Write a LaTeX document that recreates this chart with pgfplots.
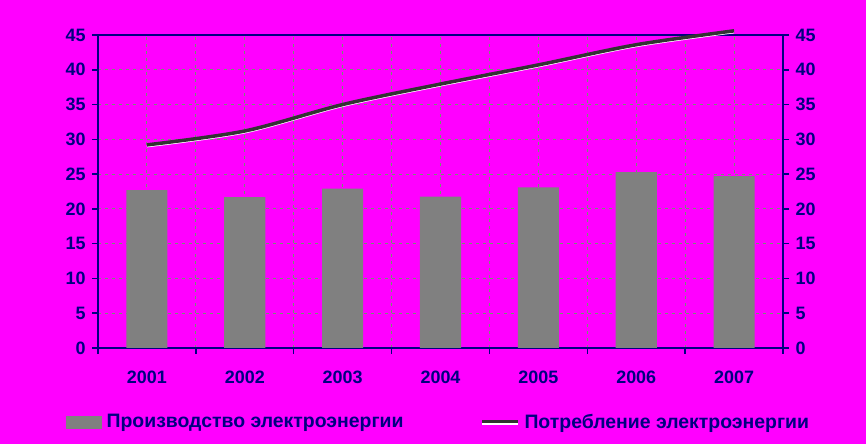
\documentclass[border=0pt]{standalone}
\usepackage{pgfplots}
\pgfplotsset{compat=1.18}
\usepackage{fontspec}
\setmainfont{Liberation Sans}
\definecolor{bg}{RGB}{255,0,255}
\definecolor{navy}{RGB}{0,0,128}
\definecolor{bargray}{RGB}{128,128,128}
\definecolor{linegray}{RGB}{51,51,51}
\definecolor{gridc}{RGB}{110,150,110}
\begin{document}
\begin{tikzpicture}[x=1bp,y=1bp]
\fill[bg] (0,0) rectangle (866,444);
\pgfplotsset{base/.style={
  at={(98bp,96bp)}, anchor=south west,
  width=685bp, height=313bp, scale only axis,
  xmin=-0.5, xmax=6.5, ymin=0, ymax=45,
  ytick={0,5,...,45},
  clip=false,
  tick align=outside,
  tick style={navy, line width=1.5bp},
  major tick length=6bp, minor tick length=6bp,
  ticklabel style={font=\fontsize{18}{21}\selectfont\bfseries, text=navy},
  /pgf/number format/assume math mode=true,
}}
\begin{axis}[base,
  axis line style={navy, line width=2bp},
  xtick={0,...,6}, xticklabels={2001,2002,2003,2004,2005,2006,2007},
  major x tick style={draw=none},
  minor xtick={-0.5,0.5,...,6.5},
  xtick pos=left, ytick pos=left,
  xmajorgrids, xminorgrids, ymajorgrids,
  grid style={gridc, dash pattern=on 3bp off 4bp, line width=1bp},
  major grid style={gridc, dash pattern=on 3bp off 4bp, line width=1bp},
  minor grid style={gridc, dash pattern=on 3bp off 4bp, line width=1bp},
  xticklabel style={yshift=-13bp},
  yticklabel style={xshift=-3bp},
]
\addplot[ybar, bar width=0.42, fill=bargray, draw=none] coordinates {
(0,22.7) (1,21.7) (2,22.9) (3,21.75) (4,23.1) (5,25.3) (6,24.7)};
\end{axis}
\begin{axis}[base,
  axis x line=none, axis y line*=right,
  axis line style={navy, line width=2bp},
  ytick pos=right,
  yticklabel style={xshift=3bp},
  legend columns=2,
  legend cell align=left,
  legend style={at={(-0.0467,-0.236)}, anchor=west, draw=none, fill=none,
    font=\fontsize{19.5}{22}\selectfont\bfseries, text=navy, inner sep=0pt,
    nodes={inner xsep=5bp},
    /tikz/every even column/.append style={column sep=72bp}},
]
\addlegendimage{legend image code/.code={\fill[bargray] (0bp,-6bp) rectangle (35bp,6bp);}}
\addlegendentry{Производство электроэнергии}
\addplot[white, line width=2bp, smooth, yshift=-1.5bp, forget plot] coordinates {
(0,29.2) (1,31.2) (2,35.0) (3,37.95) (4,40.7) (5,43.6) (6,45.6)};
\addplot[linegray, line width=3.5bp, smooth,
  legend image code/.code={\draw[white, line width=2bp] (0bp,-2bp) -- (36bp,-2bp); \draw[linegray, line width=3bp] (0bp,0bp) -- (36bp,0bp);}] coordinates {
(0,29.2) (1,31.2) (2,35.0) (3,37.95) (4,40.7) (5,43.6) (6,45.6)};
\addlegendentry{Потребление электроэнергии}
\end{axis}
\end{tikzpicture}
\end{document}
